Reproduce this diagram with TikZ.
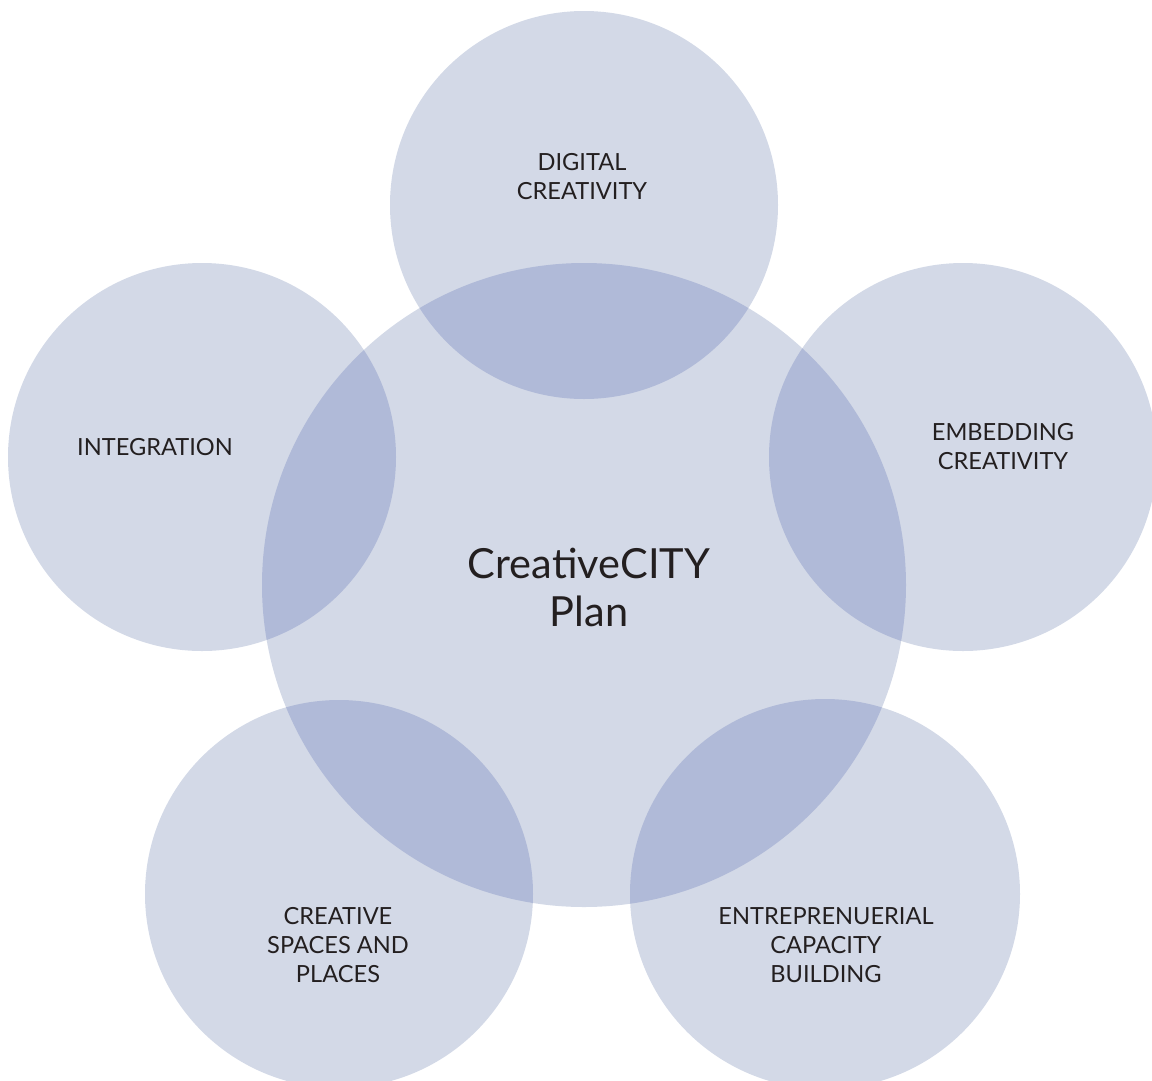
\documentclass[tikz,border=0pt]{standalone}
\usepackage{fontspec}
\setmainfont{Lato}
\usepackage{xcolor}
\definecolor{ringfill}{HTML}{D3D9E7}
\definecolor{ringover}{HTML}{B0BAD8}
\definecolor{labeltext}{HTML}{231F20}

\begin{document}
\begin{tikzpicture}[x=1pt,y=-1pt,
	ring/.style={circle,fill=ringfill,inner sep=0pt,minimum size=#1},
	small/.style={align=center,text=labeltext,font=\fontsize{23.6}{29}\selectfont},
	big/.style={align=center,text=labeltext,font=\fontsize{41.5}{48}\selectfont}]
	\useasboundingbox (0,0) rectangle (1152,1080);
	\node [ring=644pt] (plan) at (584,585) {};
	\node [ring=388pt] (digital) at (584,205) {};
	\node [ring=388pt] (embed) at (963,457) {};
	\node [ring=388pt] (integ) at (202,457) {};
	\node [ring=388pt] (spaces) at (339,894) {};
	\node [ring=390pt] (entre) at (825,894) {};
	\foreach \n/\r in {digital/194,embed/194,integ/194,spaces/194,entre/195}{
		\begin{scope}
			\clip (plan.center) circle [radius=322];
			\fill [ringover] (\n.center) circle [radius=\r];
		\end{scope}
	}
	\node [big] (plantext) at (589,587) {CreativeCITY\\Plan};
	\node [small] (digitaltext) at (582,177) {DIGITAL\\CREATIVITY};
	\node [small] (embedtext) at (1003,447) {EMBEDDING\\CREATIVITY};
	\node [small] (integtext) at (155,447) {INTEGRATION};
	\node [small] (spacestext) at (338,945) {CREATIVE\\SPACES AND\\PLACES};
	\node [small] (entretext) at (826,945) {ENTREPRENUERIAL\\CAPACITY\\BUILDING};
\end{tikzpicture}
\end{document}
